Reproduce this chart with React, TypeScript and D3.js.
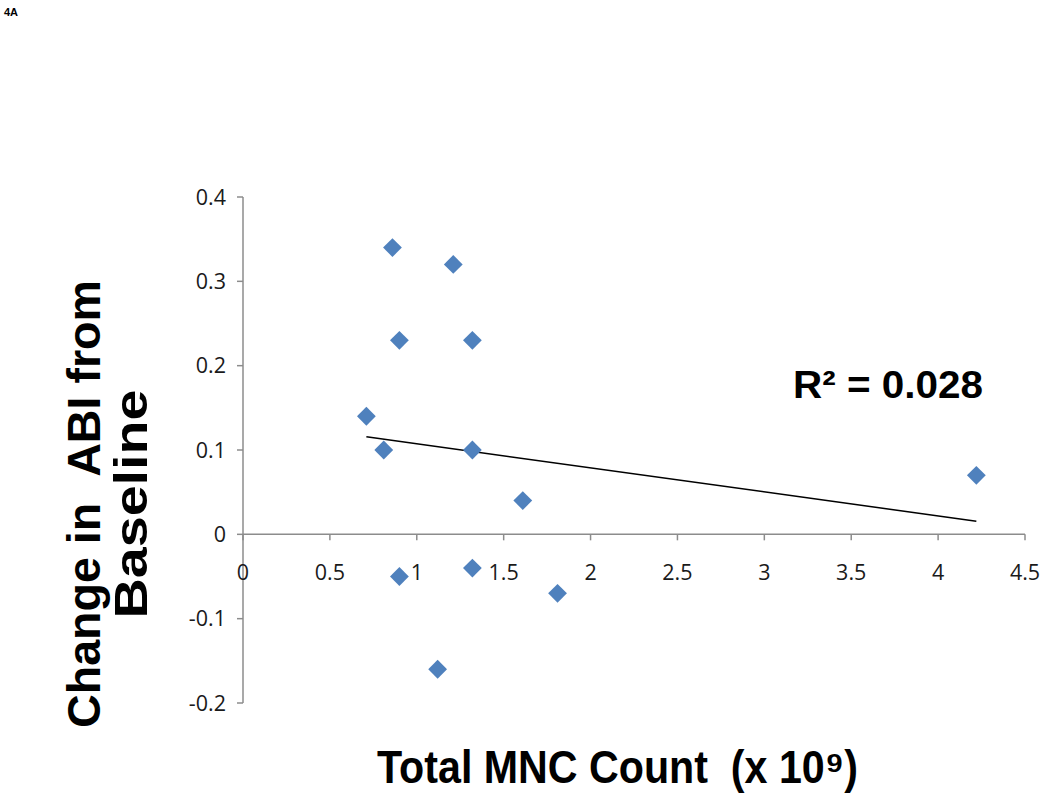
import React from "react";
import * as d3 from "d3";

const mncCount = [0.86, 1.21, 0.9, 1.32, 0.71, 0.81, 1.32, 1.61, 0.9, 1.32, 1.81, 1.12, 4.22];
const abiChange = [0.34, 0.32, 0.23, 0.23, 0.14, 0.1, 0.1, 0.04, -0.05, -0.04, -0.07, -0.16, 0.07];
const xTicks = [0, 0.5, 1, 1.5, 2, 2.5, 3, 3.5, 4, 4.5];
const yTicks = [-0.2, -0.1, 0, 0.1, 0.2, 0.3, 0.4];

const W = 1050;
const H = 794;

export default function App() {
  const x = d3.scaleLinear().domain([0, 4.5]).range([243, 1025]);
  const y = d3.scaleLinear().domain([-0.2, 0.4]).range([703, 197]);

  const n = mncCount.length;
  const mx = d3.mean(mncCount) as number;
  const my = d3.mean(abiChange) as number;
  let sxy = 0, sxx = 0, syy = 0;
  for (let i = 0; i < n; i++) {
    sxy += (mncCount[i] - mx) * (abiChange[i] - my);
    sxx += (mncCount[i] - mx) ** 2;
    syy += (abiChange[i] - my) ** 2;
  }
  const slope = sxy / sxx;
  const intercept = my - slope * mx;
  const r2 = (sxy * sxy) / (sxx * syy);
  const [x0, x1] = d3.extent(mncCount) as [number, number];
  const line = d3.line<number>().x((d) => x(d)).y((d) => y(intercept + slope * d));

  const axisColor = "#8c8c8c";
  const tickFont = "Open Sans, Lato, sans-serif";
  const boldFont = "Liberation Sans, Arial, sans-serif";
  const diamond = d3.symbol().type(d3.symbolDiamond2).size(225)();
  const fmtTick = (t: number) => (t === 0 ? "0" : d3.format(".1f")(t).replace("\u2212", "-"));

  return (
    <svg width={W} height={H} style={{ position: "absolute", left: 0, top: 0, background: "#fff" }}>
      <rect x={0} y={0} width={W} height={H} fill="#fff" />
      <text x={4} y={16} fontFamily={boldFont} fontWeight="bold" fontSize={11}>4A</text>

      {/* y axis */}
      <line x1={x(0)} x2={x(0)} y1={y(0.4)} y2={y(-0.2)} stroke={axisColor} strokeWidth={1.5} />
      {yTicks.map((t) => (
        <g key={"y" + t}>
          <line x1={x(0) - 6} x2={x(0)} y1={y(t)} y2={y(t)} stroke={axisColor} strokeWidth={1.5} />
          <text x={226} y={y(t)} dy="0.36em" textAnchor="end" fontFamily={tickFont} fontSize={21.5} fill="#1a1a1a">
            {fmtTick(t)}
          </text>
        </g>
      ))}

      {/* x axis */}
      <line x1={x(0)} x2={x(4.5)} y1={y(0)} y2={y(0)} stroke={axisColor} strokeWidth={1.5} />
      {xTicks.map((t) => (
        <g key={"x" + t}>
          <line x1={x(t)} x2={x(t)} y1={y(0)} y2={y(0) + 6} stroke={axisColor} strokeWidth={1.5} />
          <text x={x(t)} y={y(0) + 38} dy="0.36em" textAnchor="middle" fontFamily={tickFont} fontSize={21.5} fill="#1a1a1a">
            {String(t)}
          </text>
        </g>
      ))}

      {/* trend line */}
      <path d={line([x0, x1]) || ""} stroke="#000" strokeWidth={1.5} fill="none" />

      {/* points */}
      {mncCount.map((v, i) => (
        <path key={i} d={diamond || ""} transform={`translate(${x(v)},${y(abiChange[i])})`} fill="#4f81bd" />
      ))}

      <text x={793} y={398} fontFamily={boldFont} fontWeight="bold" fontSize={39} fill="#000"
        textLength={190} lengthAdjust="spacingAndGlyphs">
        {"R² = " + d3.format(".3f")(r2)}
      </text>

      {/* x axis title */}
      <text x={377} y={783} fontFamily={boldFont} fontWeight="bold" fontSize={46} fill="#000"
        textLength={481} lengthAdjust="spacingAndGlyphs">
        {"Total MNC Count\u00A0\u00A0(x 10\u2079)"}
      </text>

      {/* y axis title */}
      <g transform="translate(100,504) rotate(-90)">
        <text x={0} y={0} textAnchor="middle" fontFamily={boldFont} fontWeight="bold" fontSize={46} fill="#000"
          textLength={448} lengthAdjust="spacingAndGlyphs">
          {"Change in\u00A0\u00A0ABI from"}
        </text>
        <text x={0} y={47} textAnchor="middle" fontFamily={boldFont} fontWeight="bold" fontSize={46} fill="#000"
          textLength={229} lengthAdjust="spacingAndGlyphs">
          Baseline
        </text>
      </g>
    </svg>
  );
}
